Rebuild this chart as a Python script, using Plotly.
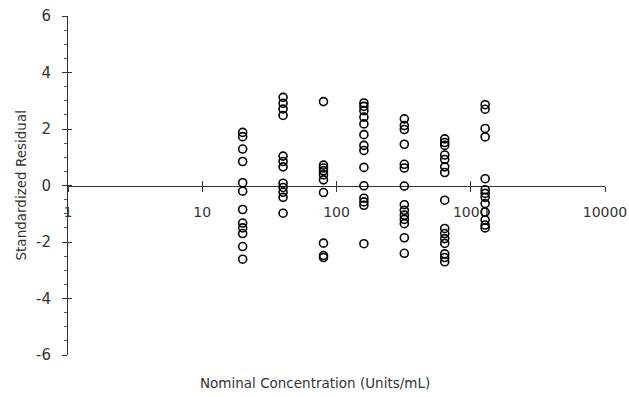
import plotly.graph_objects as go

# Nominal concentrations (Units/mL) of each column of points
concentrations = [20, 40, 80, 160, 320, 640, 1280]

# Standardized residuals, one list per concentration
res_20 = [1.88, 1.73, 1.29, 0.85, 0.10, -0.20, -0.85, -1.33, -1.50, -1.70, -2.16, -2.61]
res_40 = [3.12, 2.91, 2.71, 2.48, 1.04, 0.85, 0.66, 0.08, -0.07, -0.24, -0.42, -0.98]
res_80 = [2.97, 0.72, 0.62, 0.52, 0.38, 0.20, -0.25, -2.04, -2.48, -2.55]
res_160 = [2.92, 2.80, 2.65, 2.42, 2.18, 1.80, 1.42, 1.24, 0.64, -0.01, -0.45, -0.58, -0.70, -2.06]
res_320 = [2.36, 2.12, 1.98, 1.46, 0.75, 0.62, -0.02, -0.68, -0.88, -1.05, -1.20, -1.35, -1.85, -2.40]
res_640 = [1.65, 1.52, 1.42, 1.08, 0.92, 0.66, 0.46, -0.52, -1.52, -1.70, -1.88, -2.05, -2.42, -2.55, -2.70]
res_1280 = [2.86, 2.70, 2.02, 1.72, 0.24, -0.15, -0.28, -0.42, -0.64, -0.94, -1.22, -1.40, -1.50]

all_residuals = [res_20, res_40, res_80, res_160, res_320, res_640, res_1280]

x_tick_values = [1, 10, 100, 1000, 10000]
x_tick_labels = ["1", "10", "100", "1000", "10000"]
y_tick_values = [-6, -4, -2, 0, 2, 4, 6]
y_tick_labels = ["-6", "-4", "-2", "0", "2", "4", "6"]

xs, ys = [], []
for c, vals in zip(concentrations, all_residuals):
    for v in vals:
        xs.append(c)
        ys.append(v)

FONT = "DejaVu Sans"

fig = go.Figure()
fig.add_trace(go.Scatter(
    x=xs, y=ys, mode="markers",
    marker=dict(symbol="circle-open", size=8, color="black", line=dict(width=1.6, color="black")),
    showlegend=False, hoverinfo="x+y",
))
# empty trace so that the overlay axes (inner tick halves) are drawn
fig.add_trace(go.Scatter(x=[], y=[], xaxis="x2", yaxis="y2", showlegend=False))

fig.update_layout(
    width=629, height=397,
    margin=dict(l=68, r=24, t=16, b=42),
    paper_bgcolor="white", plot_bgcolor="white",
    font=dict(family=FONT, size=13, color="#222"),
    xaxis=dict(
        type="log", range=[0, 4], anchor="free", position=0.5, automargin=False,
        showline=True, linecolor="#333", linewidth=1,
        ticks="outside", ticklen=5, tickcolor="#333",
        tickvals=x_tick_values, ticktext=x_tick_labels,
        showgrid=False, zeroline=False, layer="below traces",
        ticklabelstandoff=9, tickfont=dict(size=14, color="#333"),
    ),
    xaxis2=dict(
        type="log", range=[0, 4], overlaying="x", anchor="free", position=0.5, automargin=False,
        ticks="inside", ticklen=5, tickcolor="#333",
        tickvals=x_tick_values[1:], showticklabels=False,
        showgrid=False, zeroline=False, showline=False,
    ),
    yaxis=dict(
        range=[-6, 6], showline=True, linecolor="#333", linewidth=1, automargin=False,
        ticks="outside", ticklen=5, tickcolor="#333",
        tickvals=y_tick_values, ticktext=y_tick_labels,
        minor=dict(ticks="outside", ticklen=3, dtick=0.5, tickcolor="#555", showgrid=False),
        showgrid=False, zeroline=False,
        ticklabelstandoff=8, tickfont=dict(size=15, color="#333"),
    ),
    yaxis2=dict(
        range=[-6, 6], overlaying="y", anchor="x2", side="left", automargin=False,
        ticks="inside", ticklen=4, tickcolor="#333",
        tickvals=y_tick_values, showticklabels=False,
        showgrid=False, zeroline=False, showline=False,
    ),
    annotations=[
        dict(text="Nominal Concentration (Units/mL)", xref="paper", yref="paper",
             x=0.46, y=0, yshift=-28, xanchor="center", yanchor="middle",
             showarrow=False, font=dict(size=13.5, color="#333")),
        dict(text="Standardized Residual", xref="paper", yref="paper",
             x=0, xshift=-48, y=0.5, xanchor="center", yanchor="middle",
             textangle=-90, showarrow=False, font=dict(size=13.5, color="#333")),
    ],
)

fig.write_html("out.html", config={"displayModeBar": False},
               post_script="document.body.style.margin='0';")
